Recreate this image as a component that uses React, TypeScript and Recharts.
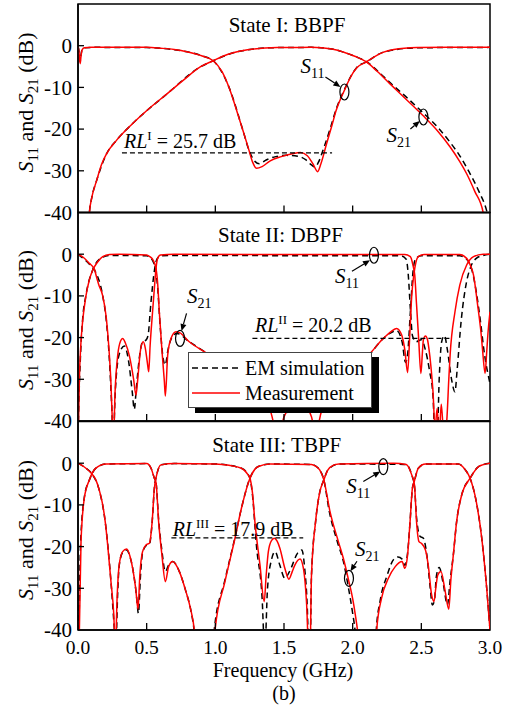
import React from 'react';
import { LineChart, Line, XAxis, YAxis, ReferenceArea, ReferenceLine, ReferenceDot, Legend } from 'recharts';

type P = [number, number][];

// ---------- data (frequency GHz, dB) ----------
const xTicks = [0, 0.5, 1.0, 1.5, 2.0, 2.5, 3.0];
const yTicks = [-40, -30, -20, -10, 0];
const panelTitles = ['State I: BBPF', 'State II: DBPF', 'State III: TBPF'];
const rlSup = ['I', 'II', 'III'];
const rlValues = [25.7, 20.2, 17.9];
const rlSpans: [number, number][] = [[0.32, 1.85], [1.27, 2.71], [0.68, 1.64]];
const seriesNames = ['EM simulation', 'Measurement'];

// Panel 1: BBPF
const p1S11Meas: P = [[0,-0.2],[0.006,-1.2],[0.012,-3.4],[0.016,-4.3],[0.022,-2.5],[0.03,-1.0],[0.045,-0.5],[0.1,-0.35],[0.3,-0.35],[0.5,-0.4],[0.6,-0.6],[0.7,-0.9],[0.8,-1.5],[0.9,-2.4],[0.985,-3.6],[1.05,-6.3],[1.1,-10],[1.15,-15],[1.2,-20.2],[1.24,-24.5],[1.27,-27.8],[1.3,-29.4],[1.34,-29],[1.4,-27.6],[1.48,-26.6],[1.56,-25.9],[1.62,-25.6],[1.67,-26.4],[1.71,-28.3],[1.745,-30.2],[1.77,-28.2],[1.81,-23.5],[1.85,-19],[1.88,-15.5],[1.94,-10.7],[1.98,-7.8],[2.03,-5.3],[2.1,-3.9],[2.16,-2.6],[2.22,-1.6],[2.3,-0.9],[2.47,-0.45],[2.7,-0.35],[3,-0.35]];
const p1S11Sim: P = [[0,-0.3],[0.006,-1.0],[0.012,-3.0],[0.016,-3.8],[0.022,-2.2],[0.03,-0.9],[0.045,-0.5],[0.1,-0.4],[0.5,-0.45],[0.7,-0.95],[0.9,-2.4],[0.985,-3.6],[1.1,-10],[1.2,-20.2],[1.25,-25.5],[1.29,-27.8],[1.32,-28.3],[1.37,-27.4],[1.44,-26.6],[1.52,-26.3],[1.6,-26.5],[1.66,-27.4],[1.7,-28.6],[1.725,-29.1],[1.75,-28],[1.79,-24.5],[1.84,-19.5],[1.88,-15.2],[1.94,-10.5],[2.03,-5.2],[2.1,-3.9],[2.22,-1.6],[2.47,-0.5],[3,-0.4]];
const p1S21Meas: P = [[0.07,-47],[0.083,-40],[0.1,-36.5],[0.136,-32.3],[0.17,-28.6],[0.21,-25.8],[0.28,-22.7],[0.4,-18.6],[0.52,-15],[0.65,-11.5],[0.77,-8.2],[0.89,-5.1],[0.985,-3.6],[1.05,-2.6],[1.13,-1.7],[1.28,-0.8],[1.45,-0.45],[1.7,-0.4],[1.85,-0.8],[1.93,-1.5],[2.02,-2.6],[2.1,-3.9],[2.18,-6.2],[2.27,-9.1],[2.4,-13.2],[2.51,-16.7],[2.62,-20.5],[2.71,-24.3],[2.78,-27.8],[2.83,-30.7],[2.89,-35],[2.95,-40],[2.97,-45]];
const p1S21Sim: P = [[0.07,-47],[0.083,-40],[0.1,-36.5],[0.136,-32.3],[0.21,-25.8],[0.28,-22.7],[0.4,-18.6],[0.65,-11.5],[0.89,-5.1],[0.985,-3.6],[1.13,-1.7],[1.28,-0.8],[1.45,-0.45],[1.7,-0.4],[1.85,-0.8],[1.93,-1.5],[2.02,-2.6],[2.1,-3.8],[2.18,-6],[2.27,-8.8],[2.4,-12.6],[2.51,-16],[2.62,-19.6],[2.71,-23.2],[2.78,-26.4],[2.85,-30.4],[2.92,-35],[2.975,-39.5],[3.0,-43]];

// Panel 2: DBPF
const p2S11Meas: P = [[0,0],[0.04,-0.8],[0.083,-2.2],[0.12,-3.6],[0.131,-5],[0.15,-7.2],[0.18,-10],[0.205,-15],[0.228,-24],[0.24,-31],[0.25,-40],[0.258,-45],[0.27,-33],[0.29,-24],[0.31,-20.8],[0.325,-20.2],[0.345,-21.3],[0.375,-24.5],[0.405,-30],[0.422,-33.8],[0.435,-30],[0.455,-23],[0.475,-21],[0.49,-22.5],[0.505,-26],[0.515,-28.2],[0.525,-22],[0.543,-13.8],[0.56,-6.5],[0.568,-3.4],[0.58,-1],[0.6,-0.2],[0.7,0],[2.0,-0.1],[2.38,-0.1],[2.42,-0.6],[2.44,-2.8],[2.452,-5],[2.465,-12],[2.48,-20],[2.497,-28.6],[2.507,-24],[2.515,-20.5],[2.53,-19.6],[2.545,-20.5],[2.555,-22.6],[2.57,-27],[2.585,-33],[2.6,-42],[2.615,-37],[2.63,-44],[2.645,-36],[2.665,-44],[2.685,-40],[2.7,-30],[2.71,-24],[2.745,-13.8],[2.78,-7.4],[2.83,-2.6],[2.88,-0.6],[2.95,0],[3,0]];
const p2S11Sim: P = [[0,0],[0.083,-2.4],[0.12,-3.8],[0.18,-10],[0.205,-15.5],[0.228,-25],[0.245,-36],[0.257,-45],[0.27,-34],[0.3,-24],[0.337,-22],[0.37,-26],[0.395,-33],[0.41,-37.2],[0.425,-32],[0.45,-24],[0.47,-21],[0.495,-20.6],[0.51,-19.5],[0.53,-12],[0.556,-4],[0.575,-1.2],[0.6,-0.4],[0.7,-0.3],[2.1,-0.4],[2.35,-0.4],[2.39,-1.2],[2.405,-5],[2.42,-13],[2.435,-19.5],[2.46,-21],[2.5,-20.5],[2.53,-23],[2.56,-28],[2.585,-34],[2.6,-45],[2.615,-45],[2.63,-30],[2.648,-21],[2.668,-19.5],[2.69,-23],[2.72,-30],[2.745,-33],[2.76,-28],[2.79,-16],[2.83,-6.5],[2.86,-3],[2.9,-1],[2.95,-0.3],[3,0]];
const p2S21Meas: P = [[0,-45],[0.003,-42],[0.01,-30],[0.02,-22],[0.034,-16],[0.058,-10],[0.08,-6.5],[0.107,-3.8],[0.14,-2],[0.18,-0.6],[0.23,-0.1],[0.3,0],[0.5,-0.2],[0.52,-0.5],[0.543,-1.2],[0.56,-2.4],[0.568,-3.4],[0.58,-7],[0.592,-13.8],[0.612,-23.4],[0.629,-30.6],[0.636,-34],[0.653,-24.2],[0.677,-20.2],[0.714,-18.6],[0.74,-18.8],[0.81,-21],[0.94,-23.8],[1.1,-28],[1.3,-33],[1.4,-37.5],[1.46,-44],[1.5,-39],[1.58,-36],[1.65,-36.5],[1.7,-39],[1.73,-43],[1.77,-38],[1.87,-31],[2.0,-26.5],[2.126,-23.8],[2.2,-21],[2.27,-18.8],[2.32,-17.8],[2.357,-19.4],[2.38,-23],[2.4,-28.4],[2.415,-20],[2.43,-10],[2.445,-5],[2.46,-2],[2.48,-0.5],[2.52,-0.1],[2.78,-0.1],[2.83,-1],[2.855,-2.5],[2.88,-5],[2.91,-12.2],[2.935,-19],[2.946,-23],[2.964,-28.6],[2.975,-24],[2.985,-19],[3.0,-13.8]];
const p2S21Sim: P = [[0,-45],[0.003,-40],[0.02,-23],[0.034,-15.5],[0.058,-9.8],[0.107,-3.8],[0.18,-0.7],[0.23,-0.3],[0.5,-0.4],[0.53,-0.9],[0.55,-2],[0.565,-3.5],[0.58,-8],[0.6,-18],[0.62,-25],[0.635,-26.6],[0.655,-23],[0.69,-19.6],[0.72,-19],[0.81,-21],[0.94,-23.8],[1.2,-30],[1.5,-38],[1.8,-32],[2.13,-23.8],[2.2,-21],[2.27,-19],[2.32,-18.3],[2.36,-21],[2.385,-26],[2.4,-24],[2.42,-14],[2.44,-4],[2.46,-1],[2.5,-0.4],[2.78,-0.4],[2.83,-1.2],[2.87,-4],[2.9,-9],[2.93,-16],[2.96,-24],[3,-31]];

// Panel 3: TBPF
const p3S11Meas: P = [[0,0],[0.058,-1.2],[0.107,-2.8],[0.13,-4],[0.155,-6.5],[0.18,-10],[0.2,-14.5],[0.216,-19.6],[0.24,-28.4],[0.26,-36],[0.272,-45],[0.285,-32],[0.3,-24.4],[0.325,-21.2],[0.354,-20.6],[0.38,-22.5],[0.398,-25.2],[0.42,-30],[0.437,-35],[0.45,-27],[0.47,-21.2],[0.495,-19.6],[0.52,-19.2],[0.54,-14],[0.556,-6],[0.573,-2.8],[0.604,-0.4],[0.7,-0.1],[1.0,-0.2],[1.1,-0.5],[1.19,-1.2],[1.23,-2.4],[1.252,-3.6],[1.27,-7],[1.288,-14],[1.325,-24.4],[1.356,-33.2],[1.37,-27],[1.386,-21.2],[1.41,-18.5],[1.43,-18],[1.45,-18.7],[1.47,-20.4],[1.506,-25.2],[1.536,-27.8],[1.56,-26],[1.58,-24.4],[1.617,-23],[1.64,-25],[1.665,-34],[1.68,-45],[1.69,-45],[1.70,-27],[1.73,-14],[1.76,-7],[1.79,-4],[1.82,-1.6],[1.86,-0.5],[1.9,-0.2],[2.3,0],[2.39,-0.3],[2.43,-2.8],[2.45,-5.2],[2.465,-14],[2.483,-18.8],[2.5,-19.2],[2.53,-20.8],[2.55,-24.4],[2.575,-31.6],[2.592,-33.2],[2.605,-30],[2.62,-26.8],[2.643,-26],[2.67,-30],[2.7,-35],[2.715,-28],[2.733,-22],[2.757,-14],[2.794,-7.6],[2.855,-3.6],[2.917,-0.8],[3,0]];
const p3S11Sim: P = [[0,0],[0.058,-1.2],[0.107,-2.8],[0.155,-6.5],[0.2,-14.5],[0.24,-28.4],[0.265,-40],[0.275,-45],[0.288,-32],[0.3,-24.6],[0.325,-21.4],[0.354,-20.8],[0.38,-22.6],[0.4,-25.5],[0.425,-31.5],[0.44,-36],[0.455,-27],[0.47,-21.5],[0.495,-19.8],[0.52,-19.4],[0.54,-14.2],[0.556,-6],[0.573,-2.8],[0.604,-0.4],[0.7,-0.1],[1.0,-0.2],[1.19,-1.2],[1.252,-3.6],[1.27,-7.5],[1.3,-20],[1.34,-32],[1.36,-45],[1.38,-30],[1.41,-23],[1.435,-21.2],[1.47,-24.5],[1.506,-27.6],[1.54,-26],[1.6,-21.5],[1.63,-20.8],[1.65,-25],[1.67,-35],[1.68,-45],[1.69,-45],[1.70,-27],[1.73,-14],[1.76,-7],[1.79,-4],[1.82,-1.6],[1.9,-0.2],[2.39,-0.3],[2.43,-2.8],[2.45,-5.5],[2.465,-13],[2.49,-17.5],[2.515,-18],[2.54,-22],[2.565,-30],[2.58,-34],[2.595,-33],[2.61,-27],[2.63,-25],[2.66,-29],[2.69,-34],[2.71,-28],[2.733,-22],[2.757,-14],[2.794,-7.6],[2.855,-3.6],[2.917,-0.8],[3,0]];
const p3S21Meas: P = [[0,-45],[0.01,-40],[0.022,-18.8],[0.046,-8.4],[0.083,-4],[0.13,-1.2],[0.204,-0.2],[0.5,-0.1],[0.532,-1.2],[0.556,-3.6],[0.568,-4.6],[0.587,-14],[0.611,-22],[0.636,-28.4],[0.66,-24.8],[0.69,-23.6],[0.738,-26],[0.786,-30.8],[0.82,-35],[0.847,-40],[0.86,-45],[0.99,-45],[0.998,-40],[1.07,-28.4],[1.143,-18],[1.19,-10.8],[1.252,-3.6],[1.313,-0.8],[1.4,-0.2],[1.7,-0.3],[1.73,-0.7],[1.76,-1.6],[1.79,-4],[1.835,-11.6],[1.896,-18.8],[1.932,-22.8],[1.97,-28],[2.0,-32.5],[2.02,-36.5],[2.035,-40],[2.05,-45],[2.165,-45],[2.175,-40],[2.21,-32.4],[2.26,-27.6],[2.31,-24.8],[2.36,-23.6],[2.38,-25.2],[2.4,-22],[2.418,-14],[2.435,-6],[2.45,-4.2],[2.478,-1.2],[2.53,-0.2],[2.77,-0.2],[2.82,-1.6],[2.855,-3.6],[2.9,-9.2],[2.94,-18],[2.976,-30],[3.0,-40]];
const p3S21Sim: P = [[0,-45],[0.006,-40],[0.018,-20],[0.046,-8.2],[0.083,-4],[0.13,-1.2],[0.204,-0.2],[0.5,-0.1],[0.532,-1.2],[0.556,-3.6],[0.568,-4.6],[0.587,-13.5],[0.611,-21],[0.636,-26],[0.66,-24.4],[0.69,-23.6],[0.738,-26],[0.786,-30.8],[0.82,-35],[0.845,-40],[0.86,-45],[0.985,-45],[0.992,-40],[1.07,-28],[1.143,-17.8],[1.19,-10.8],[1.252,-3.6],[1.313,-0.8],[1.4,-0.2],[1.7,-0.3],[1.76,-1.6],[1.79,-4],[1.83,-11.6],[1.89,-19],[1.932,-23.5],[1.97,-30],[2.0,-36],[2.017,-40],[2.03,-45],[2.165,-45],[2.172,-40],[2.2,-33],[2.25,-27],[2.3,-23],[2.33,-22.5],[2.36,-23],[2.38,-24.5],[2.4,-21.5],[2.418,-14],[2.435,-6],[2.45,-4.2],[2.478,-1.2],[2.53,-0.2],[2.77,-0.2],[2.82,-1.6],[2.855,-3.6],[2.9,-9.2],[2.94,-18],[2.976,-30],[3.0,-40]];

// annotation anchor points (data coordinates) on the curves
const markerPoints: [number, number][][] = [
  [[1.94, -11.1], [2.515, -17.1]],
  [[0.743, -20.2], [2.155, -0.25]],
  [[2.223, -0.8], [1.973, -27.6]],
];
const markerSubs: string[][] = [['11', '21'], ['21', '11'], ['11', '21']];

// ---------- styling ----------
const FONT = '"Liberation Serif","Times New Roman",Times,serif';
const RED = '#ff0000';
const W = 506;
const H = 710;
const PLOT_LEFT = 78;
const PLOT_RIGHT = 490;
const PANEL_H = 208.5;
const panelTops = [4, 212.5, 421.5];
const DASH = '6 4';

const toPts = (a: P) => a.map(([x, y]) => ({ x, y }));

type Off = { lx: number; ly: number; tx: number; ty: number; hx: number; hy: number };
const markerOffsets: Off[][] = [
  [{ lx: -44, ly: -19, tx: -19, ty: -15, hx: -4, hy: -5 }, { lx: -37, ly: 25, tx: -13, ty: 12, hx: -3.5, hy: 4 }],
  [{ lx: 7, ly: -35, tx: 6.5, ty: -25, hx: 1.5, hy: -7.5 }, { lx: -39, ly: 28, tx: -22, ty: 16, hx: -4, hy: 5 }],
  [{ lx: -37, ly: 26, tx: -20, ty: 15, hx: -3, hy: 5 }, { lx: 6, ly: -22, tx: 8, ty: -17, hx: 1.5, hy: -7 }],
];

function markerShape(sub: string, o: Off) {
  return (p: any) => {
    const cx = p.cx, cy = p.cy;
    const x1 = cx + o.tx, y1 = cy + o.ty, x2 = cx + o.hx, y2 = cy + o.hy;
    const ang = Math.atan2(y2 - y1, x2 - x1);
    const L = 7, Wd = 3;
    const bx = x2 - L * Math.cos(ang), by = y2 - L * Math.sin(ang);
    const pts = `${x2},${y2} ${bx + Wd * Math.sin(ang)},${by - Wd * Math.cos(ang)} ${bx - Wd * Math.sin(ang)},${by + Wd * Math.cos(ang)}`;
    return (
      <g>
        <ellipse cx={cx} cy={cy} rx={4.5} ry={8} fill="none" stroke="#000" strokeWidth={1.2} />
        <line x1={x1} y1={y1} x2={bx} y2={by} stroke="#000" strokeWidth={1.2} />
        <polygon points={pts} fill="#000" />
        <text x={cx + o.lx} y={cy + o.ly} fontFamily={FONT} fontSize={21} fill="#000">
          <tspan fontStyle="italic">S</tspan>
          <tspan fontSize={14} dy={5}>{sub}</tspan>
        </text>
      </g>
    );
  };
}

function rlShape(sup: string, val: number, dx: number, dy: number) {
  return (p: any) => (
    <text x={p.cx + dx} y={p.cy + dy} fontFamily={FONT} fontSize={20} fill="#000">
      <tspan fontStyle="italic">RL</tspan>
      <tspan fontSize={13} dy={-8}>{sup}</tspan>
      <tspan dy={8}>{` = ${val.toFixed(1)} dB`}</tspan>
    </text>
  );
}
const rlTextOffsets = [[2, -5], [2.6, -6.5], [1.3, -2]];

const makeXTick = (showLabel: boolean) => (props: any) => {
  const { x, y, payload } = props;
  const v = payload.value as number;
  return (
    <g>
      {v > 0.01 && v < 2.99 && <line x1={x} x2={x} y1={y} y2={y - 7} stroke="#000" strokeWidth={1.3} />}
      {showLabel && (
        <text x={x} y={y + 24} textAnchor="middle" fontSize={19.5} fontFamily={FONT} fill="#000">
          {v.toFixed(1)}
        </text>
      )}
    </g>
  );
};

const yTick = (props: any) => {
  const { x, y, payload } = props;
  const v = payload.value as number;
  return (
    <g>
      {v > -39.5 && <line x1={x} x2={x + 6} y1={y} y2={y} stroke="#000" strokeWidth={1.3} />}
      <text x={x - 6} y={y} dy="0.35em" textAnchor="end" fontSize={21} fontFamily={FONT} fill="#000">
        {v < 0 ? '-' + Math.abs(v) : String(v)}
      </text>
    </g>
  );
};

const LegendBox = (props: any) => {
  const payload = (props.payload || []).filter((e: any) => seriesNames.includes(e.value));
  return (
    <div
      style={{
        width: 184,
        height: 56,
        boxSizing: 'border-box',
        border: '1px solid #444',
        background: '#fff',
        boxShadow: '7px 5px 0 0 #000',
        fontFamily: FONT,
        fontSize: 20,
        position: 'relative',
        color: '#000',
      }}
    >
      {payload.map((e: any, i: number) => {
        const dashed = e.color === '#000';
        return (
          <div key={i} style={{ position: 'absolute', left: 2, top: 4 + i * 25, height: 22, display: 'flex', alignItems: 'center', whiteSpace: 'nowrap' }}>
            <svg width={50} height={10} style={{ display: 'block' }}>
              <line x1={1} x2={49} y1={5} y2={5} stroke={e.color} strokeWidth={1.5} strokeDasharray={dashed ? DASH : undefined} />
            </svg>
            <span style={{ marginLeft: 4, lineHeight: '22px' }}>{e.value}</span>
          </div>
        );
      })}
    </div>
  );
};

const panelData = [
  { s11m: p1S11Meas, s11s: p1S11Sim, s21m: p1S21Meas, s21s: p1S21Sim },
  { s11m: p2S11Meas, s11s: p2S11Sim, s21m: p2S21Meas, s21s: p2S21Sim },
  { s11m: p3S11Meas, s11s: p3S11Sim, s21m: p3S21Meas, s21s: p3S21Sim },
];

function renderPanel(i: number) {
  const top = panelTops[i];
  const bottomMargin = H - (top + PANEL_H) - 30;
  const d = panelData[i];
  const [x1, x2] = rlSpans[i];
  const rl = -rlValues[i];
  return (
    <div key={i} style={{ position: 'absolute', left: 0, top: 0 }}>
      <LineChart width={W} height={H} margin={{ top, right: W - PLOT_RIGHT, bottom: bottomMargin, left: PLOT_LEFT - 60 }}>
        <XAxis
          dataKey="x"
          type="number"
          domain={[0, 3]}
          ticks={xTicks}
          interval={0}
          allowDataOverflow
          height={30}
          tickSize={0}
          tickMargin={0}
          tickLine={false}
          axisLine={{ stroke: '#000', strokeWidth: 1.5 }}
          tick={makeXTick(i === 2)}
        />
        <YAxis
          type="number"
          domain={[-40, 10]}
          ticks={yTicks}
          interval={0}
          allowDataOverflow
          width={60}
          tickSize={0}
          tickMargin={0}
          tickLine={false}
          axisLine={{ stroke: '#000', strokeWidth: 1.5 }}
          tick={yTick}
        />
        <ReferenceArea x1={0} x2={3} y1={-40} y2={10} fill="none" stroke="#000" strokeWidth={1.5} />
        <Line data={toPts(d.s11s)} dataKey="y" name={seriesNames[0]} type="monotone" stroke="#000" strokeWidth={1.5} strokeDasharray={DASH} dot={false} activeDot={false} isAnimationActive={false} />
        <Line data={toPts(d.s21s)} dataKey="y" name="sim21" legendType="none" type="monotone" stroke="#000" strokeWidth={1.5} strokeDasharray={DASH} dot={false} activeDot={false} isAnimationActive={false} />
        <Line data={toPts(d.s11m)} dataKey="y" name={seriesNames[1]} type="monotone" stroke={RED} strokeWidth={1.5} dot={false} activeDot={false} isAnimationActive={false} />
        <Line data={toPts(d.s21m)} dataKey="y" name="meas21" legendType="none" type="monotone" stroke={RED} strokeWidth={1.5} dot={false} activeDot={false} isAnimationActive={false} />
        <ReferenceLine segment={[{ x: x1, y: rl }, { x: x2, y: rl }]} stroke="#000" strokeWidth={1.2} strokeDasharray="5 3" />
        <ReferenceDot x={x1} y={rl} r={1} shape={rlShape(rlSup[i], rlValues[i], rlTextOffsets[i][0], rlTextOffsets[i][1])} />
        {markerPoints[i].map((m, k) => (
          <ReferenceDot key={k} x={m[0]} y={m[1]} r={1} shape={markerShape(markerSubs[i][k], markerOffsets[i][k])} />
        ))}
        {i === 1 && (
          <Legend
            layout="vertical"
            align="center"
            verticalAlign="middle"
            content={LegendBox}
            wrapperStyle={{ left: 188, top: 352, width: 184, height: 56 }}
          />
        )}
      </LineChart>
    </div>
  );
}

const titleX = [287, 280.5, 276.7];
const titleBase = [32, 241.7, 451.7];
const yLabelCenters = [102.5, 320, 530];

export default function App() {
  return (
    <div style={{ position: 'absolute', left: 0, top: 0, width: W, height: H, background: '#fff', overflow: 'hidden' }}>
      {[0, 1, 2].map((i) => renderPanel(i))}
      <svg width={W} height={H} style={{ position: 'absolute', left: 0, top: 0, pointerEvents: 'none' }}>
        {panelTitles.map((t, i) => (
          <text key={t} x={titleX[i]} y={titleBase[i]} textAnchor="middle" fontFamily={FONT} fontSize={21} fill="#000">
            {t}
          </text>
        ))}
        {yLabelCenters.map((c, i) => (
          <text key={i} transform={`translate(33, ${c}) rotate(-90)`} textAnchor="middle" fontFamily={FONT} fontSize={22} fill="#000">
            <tspan fontStyle="italic">S</tspan>
            <tspan fontSize={15} dy={5}>11</tspan>
            <tspan dy={-5}> and </tspan>
            <tspan fontStyle="italic">S</tspan>
            <tspan fontSize={15} dy={5}>21</tspan>
            <tspan dy={-5}> (dB)</tspan>
          </text>
        ))}
        <text x={283} y={677} textAnchor="middle" fontFamily={FONT} fontSize={20} fill="#000">
          Frequency (GHz)
        </text>
        <text x={284} y={700} textAnchor="middle" fontFamily={FONT} fontSize={20} fill="#000">
          (b)
        </text>
      </svg>
    </div>
  );
}
